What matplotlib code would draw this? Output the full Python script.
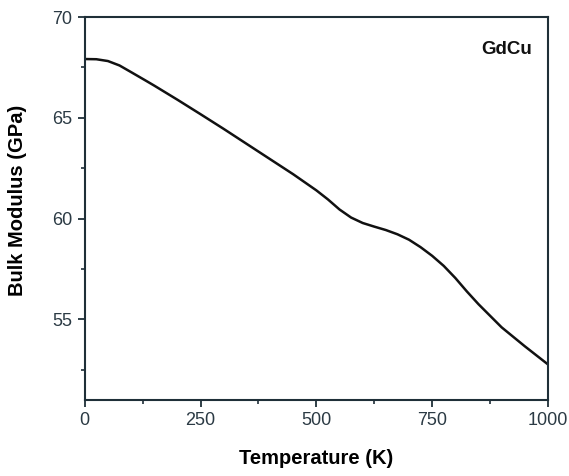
import numpy as np
import matplotlib.pyplot as plt
from matplotlib.ticker import MultipleLocator

plt.rcParams['font.family'] = ['Liberation Sans', 'DejaVu Sans']

# values
temperature = [0, 25, 50, 75, 100, 130, 150, 200, 250, 300, 350, 400, 450,
               475, 500, 525, 550, 575, 600, 625, 650, 675, 700, 725, 750,
               775, 800, 825, 850, 900, 950, 1000]
bulk_modulus = [67.92, 67.91, 67.82, 67.6, 67.27, 66.87, 66.6, 65.9, 65.18,
                64.45, 63.7, 62.95, 62.2, 61.8, 61.4, 60.95, 60.45, 60.05,
                59.78, 59.6, 59.43, 59.22, 58.95, 58.58, 58.15, 57.65, 57.05,
                56.38, 55.75, 54.6, 53.66, 52.76]

spine_col = '#1f2f38'
tick_col = '#2b3a44'

fig = plt.figure(figsize=(5.69, 4.76), dpi=100)
ax = fig.add_axes([0.149, 0.160, 0.814, 0.804])

ax.plot(temperature, bulk_modulus, color='#111111', lw=1.8)

ax.set_xlim(0, 1000)
ax.set_ylim(51, 70)
ax.xaxis.set_major_locator(MultipleLocator(250))
ax.xaxis.set_minor_locator(MultipleLocator(125))
ax.yaxis.set_major_locator(MultipleLocator(5))
ax.yaxis.set_minor_locator(MultipleLocator(2.5))
ax.set_yticks([55, 60, 65, 70])

ax.tick_params(which='major', direction='out', length=5, width=1.3,
               color=spine_col, labelsize=13, labelcolor=tick_col, pad=4)
ax.tick_params(which='minor', direction='out', length=3, width=1.2, color=spine_col)

for s in ax.spines.values():
    s.set_linewidth(1.5)
    s.set_color(spine_col)

ax.set_xlabel('Temperature (K)', fontsize=14.5, fontweight='bold', labelpad=14)
ax.set_ylabel('Bulk Modulus (GPa)', fontsize=14.5, fontweight='bold')
ax.yaxis.set_label_coords(-0.125, 0.52)

ax.text(0.965, 0.915, 'GdCu', transform=ax.transAxes, ha='right', va='center',
        fontsize=13.5, fontweight='bold', color='#111111')

fig.savefig('out.png', dpi=100)
